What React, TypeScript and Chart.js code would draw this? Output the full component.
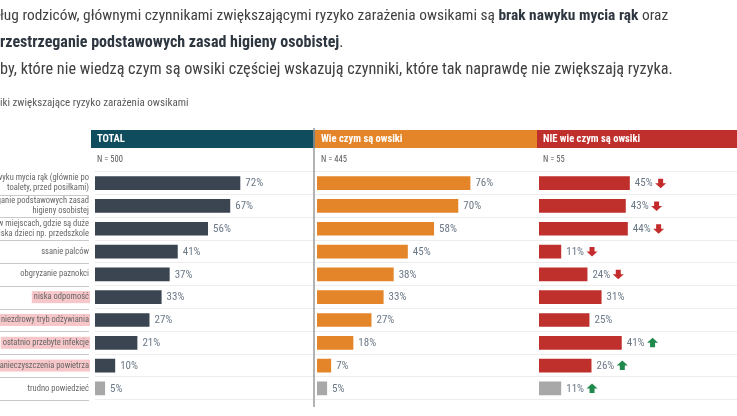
import React, { useEffect, useRef } from 'react';
import { Chart, registerables } from 'chart.js';
Chart.register(...registerables);

const categories: (string | string[])[] = [
  ['Brak nawyku mycia rąk (głównie po', 'toalety, przed posiłkami)'],
  ['Nieprzestrzeganie podstawowych zasad', 'higieny osobistej'],
  ['Przebywanie w miejscach, gdzie są duże', 'skupiska dzieci np. przedszkole'],
  'ssanie palców',
  'obgryzanie paznokci',
  'niska odpomość',
  'niezdrowy tryb odżywiania',
  'ostatnio przebyte infekcje',
  'zanieczyszczenia powietrza',
  'trudno powiedzieć',
];
const highlighted = [false, false, false, false, false, true, true, true, true, false];
const totalValues = [72, 67, 56, 41, 37, 33, 27, 21, 10, 5];
const knowValues = [76, 70, 58, 45, 38, 33, 27, 18, 7, 5];
const dontKnowValues = [45, 43, 44, 11, 24, 31, 25, 41, 26, 11];
const dontKnowSignificance = ['down', 'down', 'down', 'down', 'down', '', '', 'up', 'up', 'up'];
const panelTitles = ['TOTAL', 'Wie czym są owsiki', 'NIE wie czym są owsiki'];
const panelBases = ['N = 500', 'N = 445', 'N = 55'];
const panelColors = ['#3b4552', '#e4852a', '#bf2f2c'];
const headerColors = ['#0e4c5e', '#e4852a', '#bf2f2c'];
const noAnswerColor = '#a8a8a8';

const NARROW = "'Roboto Condensed', 'Liberation Sans Narrow', 'DejaVu Sans Condensed', Roboto, sans-serif";
const LABEL_SIZE = 8.5;

const panelPlugin = {
  id: 'panelPlugin',
  beforeDraw(chart: any) {
    const ctx = chart.ctx;
    const y = chart.scales.y;
    const step = y.getPixelForValue(1) - y.getPixelForValue(0);
    ctx.save();
    ctx.strokeStyle = '#c9c9c9';
    ctx.lineWidth = 1;
    for (let i = 1; i <= categories.length; i++) {
      const yy = Math.round(y.getPixelForValue(i - 1) + step / 2) + 0.5;
      ctx.beginPath();
      ctx.moveTo(0, yy);
      ctx.lineTo(89, yy);
      ctx.stroke();
    }
    ctx.font = `${LABEL_SIZE}px ${NARROW}`;
    categories.forEach((c, i) => {
      if (!highlighted[i]) return;
      const text = Array.isArray(c) ? c[0] : c;
      const w = ctx.measureText(text).width;
      const cy = y.getPixelForValue(i);
      ctx.fillStyle = '#f6c6c8';
      ctx.fillRect(89 - w - 2, cy - 6, w + 3, 12);
    });
    ctx.restore();
  },
  afterDatasetsDraw(chart: any) {
    const ctx = chart.ctx;
    const y = chart.scales.y;
    const sets = [totalValues, knowValues, dontKnowValues];
    ctx.save();
    const lefts = [0, 1, 2].map((i) => chart.scales['x' + i].left - (i === 0 ? 4 : 2));
    const rights = [lefts[1], lefts[2], chart.width];
    for (let i = 0; i < 3; i++) {
      ctx.fillStyle = headerColors[i];
      ctx.fillRect(lefts[i], 130, rights[i] - lefts[i], 18);
      ctx.fillStyle = '#ffffff';
      ctx.font = `bold 10.5px ${NARROW}`;
      ctx.textBaseline = 'middle';
      ctx.textAlign = 'left';
      ctx.fillText(panelTitles[i], lefts[i] + 6, 139.5);
      ctx.fillStyle = '#555';
      ctx.font = `8.5px ${NARROW}`;
      ctx.fillText(panelBases[i], lefts[i] + 6, 160);
    }
    ctx.strokeStyle = '#9a9a9a';
    ctx.lineWidth = 1.5;
    ctx.beginPath();
    ctx.moveTo(lefts[1] - 1, 128);
    ctx.lineTo(lefts[1] - 1, 407);
    ctx.stroke();
    ctx.font = `11px ${NARROW}`;
    ctx.textBaseline = 'middle';
    ctx.textAlign = 'left';
    sets.forEach((vals, d) => {
      const xs = chart.scales['x' + d];
      vals.forEach((v, i) => {
        const px = xs.getPixelForValue(v) + 5;
        const cy = y.getPixelForValue(i);
        const t = v + '%';
        ctx.fillStyle = '#6b7887';
        ctx.fillText(t, px, cy + 0.5);
        if (d === 2 && dontKnowSignificance[i]) {
          const ax = px + ctx.measureText(t).width + 8;
          const up = dontKnowSignificance[i] === 'up';
          ctx.fillStyle = up ? '#1f8a4c' : '#c42b2b';
          const s = up ? -1 : 1;
          ctx.beginPath();
          ctx.moveTo(ax, cy + s * 5);
          ctx.lineTo(ax + 5.5, cy);
          ctx.lineTo(ax + 2.5, cy);
          ctx.lineTo(ax + 2.5, cy - s * 4.5);
          ctx.lineTo(ax - 2.5, cy - s * 4.5);
          ctx.lineTo(ax - 2.5, cy);
          ctx.lineTo(ax - 5.5, cy);
          ctx.closePath();
          ctx.fill();
        }
      });
    });
    ctx.restore();
  },
};

export default function App() {
  const ref = useRef<HTMLCanvasElement>(null);
  useEffect(() => {
    document.body.style.margin = '0';
    const sets = [totalValues, knowValues, dontKnowValues];
    const xScale = () => ({
      type: 'linear',
      position: 'bottom',
      stack: 'panels',
      stackWeight: 1,
      min: 0,
      max: 110,
      display: false,
    });
    const chart = new Chart(ref.current!, {
      type: 'bar',
      data: {
        labels: categories,
        datasets: sets.map((vals, i) => ({
          label: panelTitles[i],
          data: vals,
          xAxisID: 'x' + i,
          yAxisID: 'y',
          grouped: false,
          backgroundColor: vals.map((_, j) => (j === vals.length - 1 ? noAnswerColor : panelColors[i])),
          borderWidth: 0,
          barPercentage: 1,
          categoryPercentage: 0.6,
        })),
      } as any,
      options: {
        indexAxis: 'y',
        animation: false,
        responsive: false,
        maintainAspectRatio: false,
        layout: { padding: { top: 171.75, bottom: 9.25, left: 0, right: 0 } },
        plugins: { legend: { display: false }, tooltip: { enabled: false } },
        scales: {
          y: {
            type: 'category',
            position: 'left',
            grid: { display: true, drawTicks: false, color: '#ededed', offset: true },
            border: { display: false },
            ticks: {
              autoSkip: false,
              padding: 6,
              color: '#666',
              font: { family: NARROW, size: LABEL_SIZE, lineHeight: 1.2 },
            },
            afterFit: (s: any) => {
              s.width = 95;
            },
          },
          x0: xScale(),
          x1: xScale(),
          x2: xScale(),
        } as any,
      },
      plugins: [panelPlugin],
    });
    return () => chart.destroy();
  }, []);

  const line: React.CSSProperties = {
    position: 'absolute',
    left: 0,
    whiteSpace: 'nowrap',
    fontFamily: NARROW,
    color: '#404040',
  };
  const hidden: React.CSSProperties = { position: 'absolute', right: '100%', top: 0 };
  return (
    <div style={{ position: 'relative', width: 737, height: 416, overflow: 'hidden', background: '#fff' }}>
      <canvas ref={ref} width={761} height={416} style={{ position: 'absolute', left: 0, top: 0, width: 761, height: 416 }} />
      <div style={{ ...line, top: 6, fontSize: 15.4, lineHeight: '18px' }}>
        <span style={hidden}>Wed</span>ług rodziców, głównymi czynnikami zwiększającymi ryzyko zarażenia owsikami są{' '}
        <b style={{ color: '#2e3640' }}>brak nawyku mycia rąk</b> oraz
      </div>
      <div style={{ ...line, top: 33, fontSize: 16, lineHeight: '18px' }}>
        <b style={{ color: '#2e3640' }}>
          <span style={hidden}>niep</span>rzestrzeganie podstawowych zasad higieny osobistej
        </b>
        .
      </div>
      <div style={{ ...line, top: 60, fontSize: 16.2, lineHeight: '18px' }}>
        <span style={hidden}>Os</span>by, które nie wiedzą czym są owsiki częściej wskazują czynniki, które tak naprawdę nie zwiększają ryzyka.
      </div>
      <div style={{ ...line, top: 96, fontSize: 11, lineHeight: '14px', color: '#5a5a5a' }}>
        <span style={hidden}>Czynn</span>iki zwiększające ryzyko zarażenia owsikami
      </div>
    </div>
  );
}
